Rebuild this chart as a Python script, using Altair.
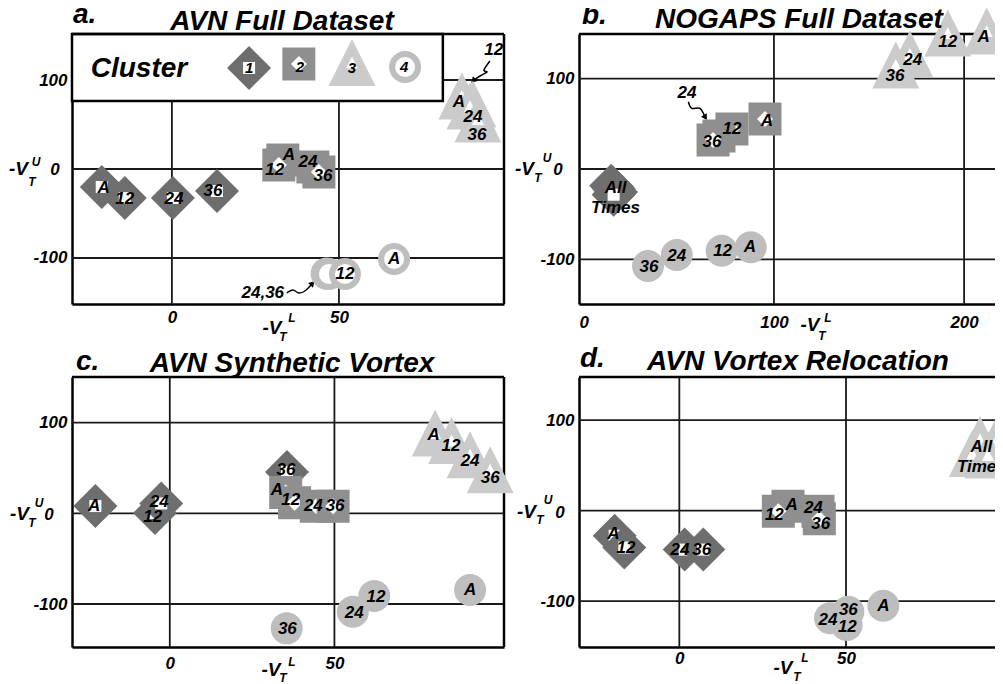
import altair as alt
import pandas as pd

FONT = "Liberation Sans"
TRI = "M0,-1L1,1L-1,1Z"

# ---------------- data (axis units) ----------------
# cluster id: 1 diamond, 2 square, 3 triangle, 4 circle
# panel a: AVN Full Dataset
A_CLUSTER = [1, 1, 1, 1, 2, 2, 2, 2, 3, 3, 3, 3, 4, 4, 4, 4]
A_X = [-21.0, -14.1, 0.3, 13.5, 33.2, 32.0, 42.2, 44.0, 86.8, 90.1, 89.2, 91.6, 46.3, 47.0, 51.8, 66.5]
A_Y = [-20.2, -32.6, -32.6, -24.7, 10.1, 4.5, 2.2, -3.4, 82.0, 73.0, 70.8, 56.2, -117.5, -118.0, -118.0, -101.1]
A_TEXT = ["A", "12", "24", "36", "A", "12", "24", "36", "A", "12", "24", "36", "", "24,36", "12", "A"]
A_TX = [-20.4, -14.1, 0.6, 12.3, 35.0, 30.8, 40.7, 45.2, 85.9, 96.3, 90.1, 91.3, 46.3, 27.2, 51.8, 66.5]
A_TY = [-21.3, -33.7, -33.7, -24.7, 15.7, -1.1, 7.9, -7.9, 75.3, 133.7, 58.4, 38.2, -117.5, -139.3, -118.0, -101.1]

# panel b: NOGAPS Full Dataset
B_CLUSTER = [1, 1, 1, 1, 2, 2, 2, 2, 3, 3, 3, 3, 4, 4, 4, 4]
B_X = [14.4, 15.7, 17.0, 15.7, 95.3, 77.9, 71.1, 68.0, 211.9, 191.4, 171.5, 164.1, 87.8, 72.5, 48.9, 33.8]
B_Y = [-18.5, -21.5, -25.5, -28.5, 55.4, 44.3, 36.5, 32.1, 152.8, 150.6, 127.4, 115.2, -86.7, -90.5, -95.2, -107.4]
B_TEXT = ["All\nTimes", "", "", "", "A", "12", "24", "36", "A", "12", "24", "36", "A", "12", "24", "36"]
B_TX = [16.7, 15.7, 17.0, 15.7, 96.3, 77.9, 54.3, 67.4, 210.3, 191.4, 173.0, 163.6, 87.4, 73.0, 48.9, 34.3]
B_TY = [-20.5, -21.5, -25.5, -28.5, 53.2, 44.3, 84.2, 29.9, 146.2, 140.6, 120.7, 103.0, -86.7, -90.5, -96.0, -108.2]

# panel c: AVN Synthetic Vortex
C_CLUSTER = [1, 1, 1, 1, 2, 2, 2, 2, 3, 3, 3, 3, 4, 4, 4, 4]
C_X = [-22.6, -4.5, -2.6, 35.6, 35.2, 37.9, 44.5, 49.6, 80.6, 85.6, 91.2, 97.3, 91.2, 62.1, 55.6, 35.5]
C_Y = [8.0, 0.3, 10.9, 45.5, 22.9, 11.6, 7.7, 7.7, 88.5, 80.3, 64.6, 48.1, -84.6, -91.2, -108.5, -126.8]
C_TEXT = ["A", "12", "24", "36", "A", "12", "24", "36", "A", "12", "24", "36", "A", "12", "24", "36"]
C_TX = [-23.0, -5.2, -3.2, 35.3, 32.5, 36.7, 43.6, 50.2, 80.1, 85.4, 91.2, 97.3, 91.2, 62.6, 56.0, 35.7]
C_TY = [8.0, -4.4, 12.8, 47.7, 25.7, 14.7, 8.4, 8.4, 86.3, 74.2, 58.0, 38.6, -84.6, -92.0, -109.6, -127.9]

# panel d: AVN Vortex Relocation
D_CLUSTER = [1, 1, 1, 1, 2, 2, 2, 2, 3, 3, 3, 3, 4, 4, 4, 4]
D_X = [-19.4, -16.5, 1.6, 7.2, 32.6, 29.7, 41.6, 42.0, 90.2, 94.7, 87.9, 92.6, 61.2, 50.2, 45.2, 50.7]
D_Y = [-27.7, -40.7, -43.0, -43.0, 4.9, -0.5, -0.5, -9.0, 78.7, 74.3, 63.2, 61.5, -105.0, -126.3, -118.9, -111.6]
D_TEXT = ["A", "12", "24", "36", "A", "12", "24", "36", "All\nTimes", "", "", "", "A", "12", "24", "36"]
D_TX = [-19.8, -16.0, 0.2, 6.7, 33.7, 28.5, 40.2, 42.4, 90.6, 94.7, 87.9, 92.6, 61.2, 50.4, 44.6, 50.7]
D_TY = [-25.7, -41.5, -43.4, -43.4, 6.3, -4.8, 2.7, -15.0, 70.1, 74.3, 63.2, 61.5, -105.0, -128.3, -120.8, -109.8]

# legend (panel a axis units)
LEG_CLUSTER = [1, 2, 3, 4]
LEG_X = [23.1, 38.0, 53.9, 69.8]
LEG_Y = [113.5, 118.0, 119.7, 114.6]
LEG_TEXT = ["1", "2", "3", "4"]
LEG_NX = [23.1, 38.3, 53.9, 69.5]
LEG_NY = [113.5, 114.6, 113.5, 114.6]
LEG_BOX = [-29.9, 81.1, 76.4, 151.7]

# squiggly arrows
ARROW_A12_X = [95.2, 93.4, 94.3, 92.2, 90.4]
ARROW_A12_Y = [121.3, 111.2, 109.0, 104.5, 100.0]
ARROW_A2436_X = [34.4, 36.2, 38.0, 39.8, 41.9]
ARROW_A2436_Y = [-139.3, -136.0, -139.3, -137.1, -129.2]
ARROW_B24_X = [55.0, 56.8, 61.1, 63.7]
ARROW_B24_Y = [74.5, 67.2, 67.2, 57.9]

Y_TICKS = [-100, 0, 100]
Y_GRID = [-100, 0, 100]

# ---------------- styles ----------------
STYLE = {
    1: dict(color="#6e6e6e", shape="diamond", size=1936, inner="square", isize=144),
    2: dict(color="#8f8f8f", shape="square", size=1089, inner="diamond", isize=256),
    3: dict(color="#cbcbcb", shape=TRI, size=2209, inner=TRI, isize=144),
    4: dict(color="#bebebe", shape="circle", size=1024, inner="circle", isize=0),
}
RING_SIZE = 676
RING_WIDTH = 6
ONE = pd.DataFrame({"k": [0]})


def point_table(clusters, xs, ys, ring):
    rows = []
    for i, (c, x, y) in enumerate(zip(clusters, xs, ys)):
        st = STYLE[c]
        if c == 4 and ring:
            rows.append(dict(x=x, y=y, shape="circle", size=RING_SIZE, fill="white",
                             stroke=st["color"], sw=RING_WIDTH, z=2 * i))
            continue
        rows.append(dict(x=x, y=y, shape=st["shape"], size=st["size"], fill=st["color"],
                         stroke="transparent", sw=0, z=2 * i))
        if st["isize"]:
            rows.append(dict(x=x, y=y, shape=st["inner"], size=st["isize"], fill="white",
                             stroke="transparent", sw=0, z=2 * i + 1))
    return pd.DataFrame(rows)


def text_style(size):
    return dict(font=FONT, fontSize=size, fontWeight="bold", fontStyle="italic", color="black")


def make_panel(P):
    xs = alt.Scale(domain=P["xdom"], nice=False, zero=False)
    ys = alt.Scale(domain=P["ydom"], nice=False, zero=False)
    lab = dict(labelFont=FONT, labelFontSize=17, labelFontWeight="bold", labelFontStyle="italic",
               labelColor="black", labelFlush=False, labelOverlap=False)
    xaxis = alt.Axis(values=P["xticks"], title=None, grid=False, ticks=False, domainColor="black",
                     domainWidth=2.5, labelPadding=P["xpad"], labelExpr="toString(datum.value)", **lab)
    yaxis = alt.Axis(values=Y_TICKS, title=None, grid=False, ticks=False, domainColor="black",
                     domainWidth=2.5, labelPadding=5,
                     labelExpr="datum.value == 0 ? '' : toString(datum.value)", **lab)

    def X(f):
        return alt.X(f"{f}:Q", scale=xs, axis=xaxis)

    def Y(f):
        return alt.Y(f"{f}:Q", scale=ys, axis=yaxis)

    layers = []
    layers.append(alt.Chart(pd.DataFrame({"v": P["xgrid"]})).mark_rule(color="#1a1a1a", strokeWidth=1.8)
                  .encode(x=X("v")))
    layers.append(alt.Chart(pd.DataFrame({"v": Y_GRID})).mark_rule(color="#1a1a1a", strokeWidth=1.8)
                  .encode(y=Y("v")))
    if P.get("legend"):
        b = LEG_BOX
        layers.append(alt.Chart(pd.DataFrame({"x1": [b[0]], "x2": [b[1]], "y1": [b[2]], "y2": [b[3]]}))
                      .mark_rect(fill="white", stroke="black", strokeWidth=2.5)
                      .encode(x=X("x1"), x2="x2:Q", y=Y("y1"), y2="y2:Q"))
    layers.append(alt.Chart(pd.DataFrame({"v": [P["ydom"][1]]})).mark_rule(color="black", strokeWidth=2.5)
                  .encode(y=Y("v")))
    if P["right"]:
        layers.append(alt.Chart(pd.DataFrame({"v": [P["xdom"][1]]})).mark_rule(color="black", strokeWidth=2.5)
                      .encode(x=X("v")))
    # arrows
    arrows = P.get("arrows", [])
    if arrows:
        rows, heads = [], []
        for j, (axs, ays, ang) in enumerate(arrows):
            for k, (ax, ay) in enumerate(zip(axs, ays)):
                rows.append(dict(id=j, k=k, x=ax, y=ay))
            heads.append(dict(x=axs[-1], y=ays[-1], ang=ang))
        layers.append(alt.Chart(pd.DataFrame(rows)).mark_line(color="black", strokeWidth=1.5,
                                                             interpolate="cardinal")
                      .encode(x=X("x"), y=Y("y"), detail="id:N", order="k:Q"))
        layers.append(alt.Chart(pd.DataFrame(heads)).mark_point(shape="triangle", filled=True, color="black",
                                                                size=45, opacity=1)
                      .encode(x=X("x"), y=Y("y"), angle=alt.Angle("ang:Q", scale=None)))
    # markers
    pts = point_table(P["cluster"], P["x"], P["y"], P.get("ring", False))
    layers.append(alt.Chart(pts).mark_point(filled=True, opacity=1).encode(
        x=X("x"), y=Y("y"),
        shape=alt.Shape("shape:N", scale=None, legend=None),
        size=alt.Size("size:Q", scale=None, legend=None),
        fill=alt.Fill("fill:N", scale=None, legend=None),
        stroke=alt.Stroke("stroke:N", scale=None, legend=None),
        strokeWidth=alt.StrokeWidth("sw:Q", scale=None, legend=None),
        order=alt.Order("z:Q"),
    ))
    # labels
    lab_df = pd.DataFrame({"t": P["text"], "tx": P["tx"], "ty": P["ty"]})
    lab_df = lab_df[lab_df["t"] != ""]
    layers.append(alt.Chart(lab_df).mark_text(lineBreak="\n", lineHeight=20, baseline="middle",
                                              **text_style(17))
                  .encode(x=X("tx"), y=Y("ty"), text="t:N"))
    # legend content
    if P.get("legend"):
        lpts = point_table(LEG_CLUSTER, LEG_X, LEG_Y, True)
        layers.append(alt.Chart(lpts).mark_point(filled=True, opacity=1).encode(
            x=X("x"), y=Y("y"),
            shape=alt.Shape("shape:N", scale=None, legend=None),
            size=alt.Size("size:Q", scale=None, legend=None),
            fill=alt.Fill("fill:N", scale=None, legend=None),
            stroke=alt.Stroke("stroke:N", scale=None, legend=None),
            strokeWidth=alt.StrokeWidth("sw:Q", scale=None, legend=None),
            order=alt.Order("z:Q"),
        ))
        layers.append(alt.Chart(pd.DataFrame({"t": LEG_TEXT, "x": LEG_NX, "y": LEG_NY}))
                      .mark_text(baseline="middle", **text_style(15))
                      .encode(x=X("x"), y=Y("y"), text="t:N"))
        layers.append(alt.Chart(pd.DataFrame({"t": ["Cluster"], "x": [-24.3], "y": [103.0]}))
                      .mark_text(align="left", baseline="alphabetic", **text_style(28))
                      .encode(x=X("x"), y=Y("y"), text="t:N"))
    # titles, axis titles
    for (txt, px, py, size, align, base) in P["titles"]:
        layers.append(alt.Chart(ONE).mark_text(text=txt, align=align, baseline=base, **text_style(size))
                      .encode(x=alt.value(px), y=alt.value(py)))
    return alt.layer(*layers).properties(width=P["width"], height=P["height"])


def titles(letter, lx, ly, title, tx, ty, yt, xt):
    return [
        (letter, lx, ly, 28, "left", "alphabetic"),
        (title, tx, ty, 28, "center", "alphabetic"),
        ("-V", yt[0], yt[1], 19, "left", "alphabetic"),
        ("U", yt[2], yt[3], 12, "center", "middle"),
        ("T", yt[4], yt[5], 12, "center", "middle"),
        ("0", yt[6], yt[1], 17, "center", "alphabetic"),
        ("-V", xt[0], xt[1], 19, "center", "middle"),
        ("L", xt[2], xt[3], 12, "center", "middle"),
        ("T", xt[4], xt[5], 12, "center", "middle"),
    ]


PA = dict(cluster=A_CLUSTER, x=A_X, y=A_Y, text=A_TEXT, tx=A_TX, ty=A_TY,
          xdom=[-29.9, 99.4], ydom=[-151.7, 151.7], width=432, height=270,
          xgrid=[0, 50], xticks=[0, 50], xpad=5, right=True, ring=True, legend=True,
          arrows=[(ARROW_A12_X, ARROW_A12_Y, 225), (ARROW_A2436_X, ARROW_A2436_Y, 45)],
          titles=titles("a.", 1, -11, "AVN Full Dataset", 210, -4,
                        (-63, 141, -36, 128, -40, 148, -17), (200, 294, 220, 284, 211, 303)))
PB = dict(cluster=B_CLUSTER, x=B_X, y=B_Y, text=B_TEXT, tx=B_TX, ty=B_TY,
          xdom=[-2.5, 219.4], ydom=[-149.5, 149.5], width=422, height=270,
          xgrid=[100, 200], xticks=[0, 100, 200], xpad=10, right=False,
          arrows=[(ARROW_B24_X, ARROW_B24_Y, 149)],
          titles=titles("b.", 3, -10, "NOGAPS Full Dataset", 220, -6,
                        (-64, 141, -32, 124, -41, 144, -21), (231, 291, 249, 284, 243, 302)))
PC = dict(cluster=C_CLUSTER, x=C_X, y=C_Y, text=C_TEXT, tx=C_TX, ty=C_TY,
          xdom=[-29.7, 101.5], ydom=[-147.4, 150.3], width=432, height=270,
          xgrid=[0, 50], xticks=[0, 50], xpad=8, right=True,
          titles=titles("c.", 4, -7, "AVN Synthetic Vortex", 220, -5,
                        (-62, 143, -33, 126, -40, 146, -23), (199, 293, 220, 285, 211, 301)))
PD = dict(cluster=D_CLUSTER, x=D_X, y=D_Y, text=D_TEXT, tx=D_TX, ty=D_TY,
          xdom=[-30.1, 96.5], ydom=[-150.6, 147.7], width=422, height=270,
          xgrid=[0, 50], xticks=[0, 50], xpad=3, right=False,
          titles=titles("d.", 1, -10, "AVN Vortex Relocation", 219, -7,
                        (-62, 141, -31, 123, -39, 143, -19), (204, 291, 226, 281, 218, 300)))

chart = (alt.concat(make_panel(PA), make_panel(PB), make_panel(PC), make_panel(PD),
                    columns=2, spacing={"row": 73, "column": 75}, bounds="flush")
         .properties(autosize=alt.AutoSizeParams(type="none"),
                     padding={"left": 64, "top": 26, "right": 923, "bottom": 650})
         .configure_view(strokeOpacity=0)
         .configure(background="white"))

chart.save("out.html", embed_options={"renderer": "svg", "actions": False})
